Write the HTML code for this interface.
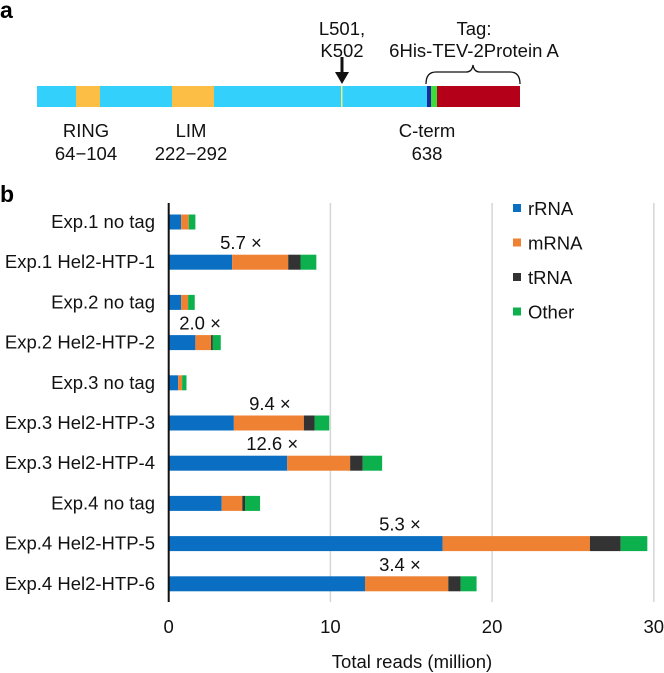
<!DOCTYPE html>
<html><head><meta charset="utf-8"><style>
html,body{margin:0;padding:0;background:#fff;}
svg{display:block;font-family:"Liberation Sans",Arial,sans-serif;}
</style></head><body>
<svg id="fig" width="664" height="673" viewBox="0 0 664 673" xmlns="http://www.w3.org/2000/svg">
<g>
<text x="0" y="18" font-size="23" font-weight="bold">a</text>
<rect x="37" y="86" width="390" height="21" fill="#33d0fb"/>
<rect x="76" y="86" width="24" height="21" fill="#fdbe45"/>
<rect x="172" y="86" width="42" height="21" fill="#fdbe45"/>
<rect x="341" y="86" width="1.5" height="21" fill="#f5e97a"/>
<rect x="427" y="86" width="4" height="21" fill="#1a2a9a"/>
<rect x="431" y="86" width="6" height="21" fill="#3ddc3a"/>
<rect x="437" y="86" width="83" height="21" fill="#b40018"/>
<line x1="342" y1="57" x2="342" y2="74" stroke="#111" stroke-width="3"/>
<polygon points="335,72 349,72 342,84" fill="#111"/>
<path d="M426,84 Q426,72 436,72 L466,72 Q472,72 473,65 Q474,72 480,72 L510,72 Q520,72 520,84" fill="none" stroke="#111" stroke-width="1.3"/>
<g font-size="18.5" text-anchor="middle" fill="#111">
<text x="342" y="35">L501,</text>
<text x="342" y="57">K502</text>
<text x="474" y="35">Tag:</text>
<text x="474" y="57">6His-TEV-2Protein A</text>
<text x="86" y="137">RING</text>
<text x="86" y="160">64−104</text>
<text x="191" y="137">LIM</text>
<text x="191" y="160">222−292</text>
<text x="427" y="137">C-term</text>
<text x="427" y="160">638</text>
</g>
</g>
<text x="0" y="202" font-size="23" font-weight="bold">b</text>
<g id="chart"></g>
</svg>
<script>
const categories = ["Exp.1 no tag","Exp.1 Hel2-HTP-1","Exp.2 no tag","Exp.2 Hel2-HTP-2","Exp.3 no tag","Exp.3 Hel2-HTP-3","Exp.3 Hel2-HTP-4","Exp.4 no tag","Exp.4 Hel2-HTP-5","Exp.4 Hel2-HTP-6"];
const rRNA  = [0.77, 3.92, 0.77, 1.65, 0.58, 4.03, 7.33, 3.28, 16.94, 12.14];
const mRNA  = [0.47, 3.47, 0.43, 0.97, 0.25, 4.33, 3.89, 1.27, 9.11, 5.15];
const tRNA  = [0.0, 0.76, 0.0, 0.11, 0.0, 0.66, 0.78, 0.17, 1.90, 0.76];
const other = [0.41, 0.98, 0.41, 0.49, 0.27, 0.91, 1.20, 0.93, 1.65, 0.99];
const foldLabels = ["", "5.7 ×", "", "2.0 ×", "", "9.4 ×", "12.6 ×", "", "5.3 ×", "3.4 ×"];
const foldLabelAt = [0, 4.47, 0, 1.94, 0, 6.26, 6.4, 0, 14.3, 14.3];
const ticks = [0, 10, 20, 30];
const seriesNames = ["rRNA","mRNA","tRNA","Other"];
const colors = ["#0a6fc2","#ef8133","#333333","#0cb04d"];

const NS = "http://www.w3.org/2000/svg";
const g = document.getElementById("chart");
const x0 = 168.7, pxPer = 16.17, top0 = 222, rowStep = 40.2, barH = 15;
const xs = v => x0 + v * pxPer;
const ys = i => top0 + i * rowStep;
function mk(tag, attrs, text) {
  const e = document.createElementNS(NS, tag);
  for (const k in attrs) e.setAttribute(k, attrs[k]);
  if (text !== undefined) e.textContent = text;
  g.appendChild(e);
  return e;
}
ticks.forEach((t, k) => {
  if (t > 0) {
    const gl = mk("line", {x1: xs(t), x2: xs(t), y1: 203, y2: 602, stroke: "#d6d6d6", "stroke-width": 1.5});
    
    
  }
  const tl = mk("text", {x: xs(t), y: 633, "font-size": 18.5, "text-anchor": "middle", fill: "#111"}, String(t));
  
  
});
const series = [rRNA, mRNA, tRNA, other];
categories.forEach((c, i) => {
  const cy = ys(i);
  const lab = mk("text", {x: 155, y: cy + 6, "font-size": 18.5, "text-anchor": "end", fill: "#111"}, c);
  
  
  let acc = 0;
  series.forEach((s, j) => {
    const v = s[i];
    if (v > 0) {
      const r = mk("rect", {x: xs(acc), y: cy - barH / 2, width: v * pxPer, height: barH, fill: colors[j]});
      
      
    }
    acc += v;
  });
  if (foldLabels[i]) {
    const a = mk("text", {x: xs(foldLabelAt[i]), y: cy - 13, "font-size": 18.5, "text-anchor": "middle", fill: "#111"}, foldLabels[i]);
    
    
  }
});
const ax = mk("line", {x1: x0, x2: x0, y1: 203, y2: 602, stroke: "#111", "stroke-width": 2});


const xt = mk("text", {x: 412, y: 668, "font-size": 18.5, "text-anchor": "middle", fill: "#111"}, "Total reads (million)");


seriesNames.forEach((n, j) => {
  const ly = 208 + j * 34.5;
  const sq = mk("rect", {x: 513, y: ly - 4, width: 8, height: 8, fill: colors[j]});
  
  
  const lt = mk("text", {x: 528, y: ly + 7, "font-size": 18.5, fill: "#111"}, n);
  
  
});
</script>
</body></html>
